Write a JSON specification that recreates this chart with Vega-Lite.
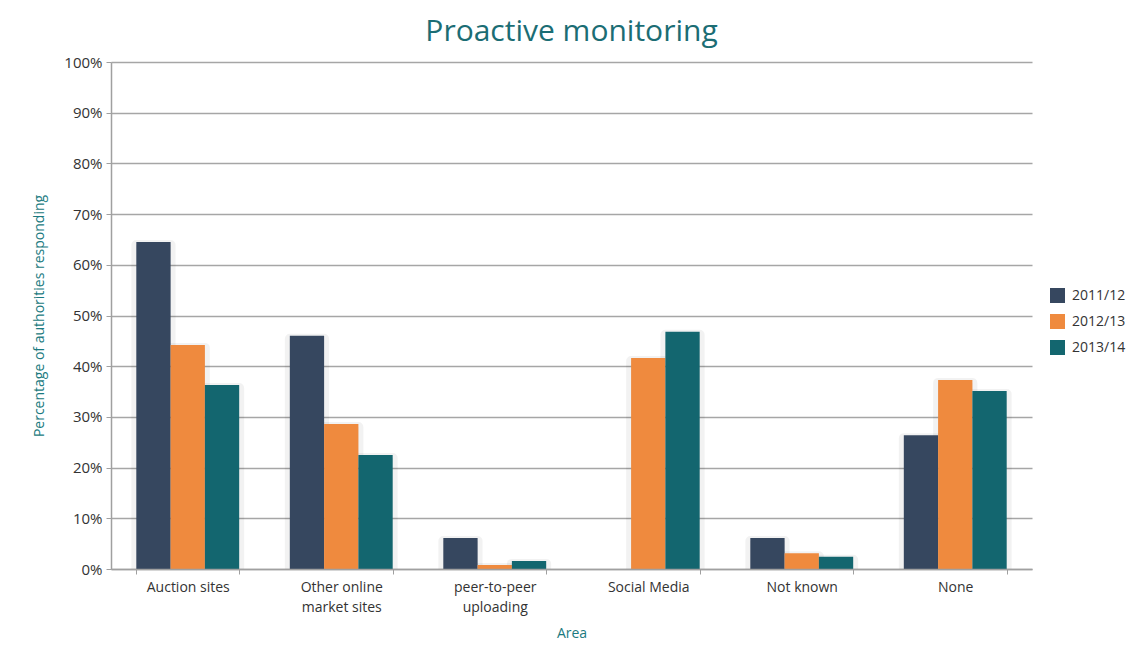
{
  "$schema": "https://vega.github.io/schema/vega-lite/v6.json",
  "autosize": "none",
  "width": 921,
  "height": 507,
  "padding": {"left": 111, "top": 62, "right": 110, "bottom": 84},
  "background": "white",
  "title": {
    "text": "Proactive monitoring",
    "font": "Open Sans",
    "fontSize": 30,
    "fontWeight": "normal",
    "color": "#1b6d74",
    "anchor": "middle",
    "offset": 8
  },
  "data": {
    "values": [
      {"area": "Auction sites", "year": "2011/12", "value": 0.645},
      {"area": "Auction sites", "year": "2012/13", "value": 0.442},
      {"area": "Auction sites", "year": "2013/14", "value": 0.363},
      {"area": "Other online market sites", "year": "2011/12", "value": 0.46},
      {"area": "Other online market sites", "year": "2012/13", "value": 0.286},
      {"area": "Other online market sites", "year": "2013/14", "value": 0.225},
      {"area": "peer-to-peer uploading", "year": "2011/12", "value": 0.061},
      {"area": "peer-to-peer uploading", "year": "2012/13", "value": 0.008},
      {"area": "peer-to-peer uploading", "year": "2013/14", "value": 0.016},
      {"area": "Social Media", "year": "2012/13", "value": 0.416},
      {"area": "Social Media", "year": "2013/14", "value": 0.468},
      {"area": "Not known", "year": "2011/12", "value": 0.061},
      {"area": "Not known", "year": "2012/13", "value": 0.031},
      {"area": "Not known", "year": "2013/14", "value": 0.024},
      {"area": "None", "year": "2011/12", "value": 0.264},
      {"area": "None", "year": "2012/13", "value": 0.373},
      {"area": "None", "year": "2013/14", "value": 0.351}
    ]
  },
  "encoding": {
    "x": {
      "field": "area",
      "type": "nominal",
      "sort": ["Auction sites", "Other online market sites", "peer-to-peer uploading", "Social Media", "Not known", "None"],
      "scale": {"paddingInner": 0.33, "paddingOuter": 0.165},
      "axis": {
        "title": "Area",
        "titleFont": "Open Sans",
        "titleFontSize": 14,
        "titleFontWeight": "normal",
        "titleColor": "#1b7a80",
        "titlePadding": 12,
        "labelAngle": 0,
        "labelFont": "Open Sans",
        "labelFontSize": 14,
        "labelColor": "#333333",
        "labelPadding": 6,
        "labelLineHeight": 20,
        "labelExpr": "datum.label == 'Other online market sites' ? ['Other online', 'market sites'] : datum.label == 'peer-to-peer uploading' ? ['peer-to-peer', 'uploading'] : datum.label",
        "tickBand": "extent",
        "tickSize": 5,
        "tickColor": "#a0a0a0",
        "domainColor": "#a0a0a0",
        "domainWidth": 1.5,
        "grid": false,
        "zindex": 1
      }
    },
    "xOffset": {"field": "year", "type": "nominal", "scale": {"paddingInner": 0, "paddingOuter": 0}},
    "y": {
      "field": "value",
      "type": "quantitative",
      "scale": {"domain": [0, 1]},
      "axis": {
        "title": "Percentage of authorities responding",
        "titleFont": "Open Sans",
        "titleFontSize": 14,
        "titleFontWeight": "normal",
        "titleColor": "#1b7a80",
        "titlePadding": 17,
        "format": ".0%",
        "values": [0, 0.1, 0.2, 0.3, 0.4, 0.5, 0.6, 0.7, 0.8, 0.9, 1],
        "labelOverlap": false,
        "labelFont": "Open Sans",
        "labelFontSize": 15,
        "labelColor": "#333333",
        "labelPadding": 4,
        "tickSize": 5,
        "tickColor": "#a0a0a0",
        "domainColor": "#a0a0a0",
        "domainWidth": 1.5,
        "gridColor": "#a6a6a6",
        "gridWidth": 1.5
      }
    }
  },
  "layer": [
    {
      "mark": {"type": "bar", "clip": true, "fill": "#000000", "fillOpacity": 0.07, "stroke": "#000000", "strokeOpacity": 0.05, "strokeWidth": 10, "strokeJoin": "round", "xOffset": 5, "yOffset": 3}
    },
    {
      "mark": {"type": "bar"},
      "encoding": {
        "color": {
          "field": "year",
          "type": "nominal",
          "scale": {"domain": ["2011/12", "2012/13", "2013/14"], "range": ["#36475f", "#ef8a3e", "#13666f"]},
          "legend": {
            "title": null,
            "orient": "none",
            "legendX": 939,
            "legendY": 226,
            "symbolType": "square",
            "symbolSize": 225,
            "symbolStrokeWidth": 0,
            "labelFont": "Open Sans",
            "labelFontSize": 14,
            "labelColor": "#333333",
            "labelOffset": 7,
            "rowPadding": 11
          }
        }
      }
    }
  ],
  "config": {"view": {"stroke": null}}
}
